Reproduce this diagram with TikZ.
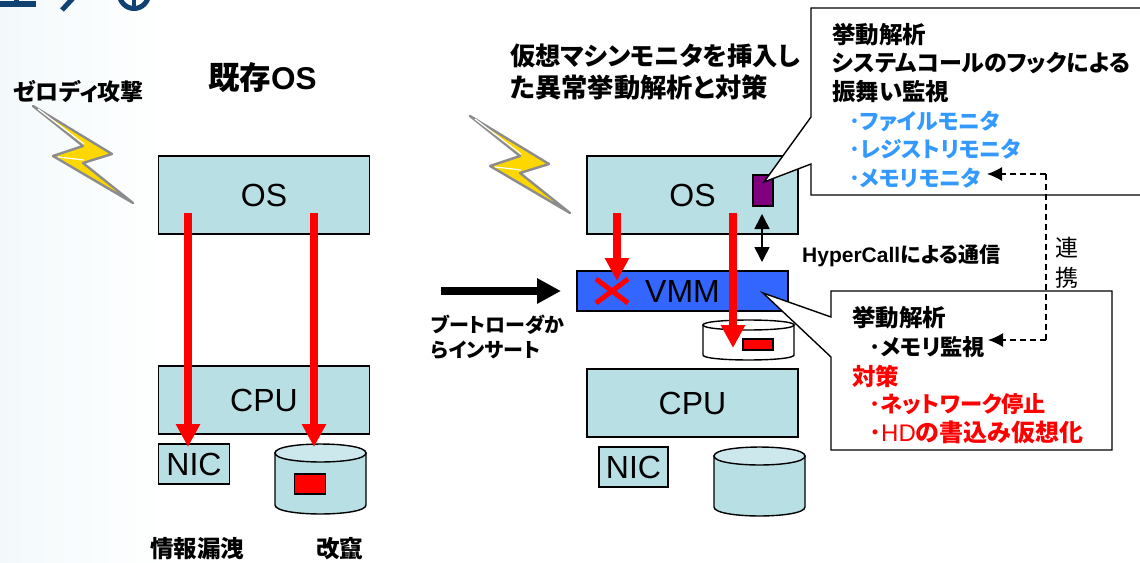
\documentclass[tikz,border=0pt]{standalone}
\usepackage{fontspec}
\setmainfont{Liberation Sans}
\newfontfamily\cjk[RawFeature=+palt]{Noto Sans CJK JP}
\usetikzlibrary{arrows.meta}
\definecolor{boxteal}{RGB}{184,223,227}
\definecolor{diskteal}{RGB}{204,232,236}
\definecolor{vmmblue}{RGB}{51,102,255}
\definecolor{monblue}{RGB}{51,153,255}
\definecolor{titleblue}{RGB}{15,65,115}
\definecolor{boltgold}{RGB}{255,215,0}
\definecolor{hookpurple}{RGB}{128,0,128}
\definecolor{paletint}{RGB}{243,249,251}
\newcommand{\jb}[1]{{\cjk\bfseries #1}}
\newcommand{\fs}[2]{\fontsize{#1}{#2}\selectfont}
\tikzset{
    hwbox/.style = {draw=black, line width=1.4pt, fill=boxteal, inner sep=0pt, font=\fontsize{32}{32}\selectfont},
    diskline/.style = {draw=black, line width=1.4pt},
    badblock/.style = {draw=black, line width=1.4pt, fill=red, inner sep=0pt},
    redarrow/.style = {red, line width=8pt, -{Triangle[length=23pt,width=23pt]}},
    blackarrow/.style = {black, line width=8pt, -{Triangle[length=24pt,width=24pt]}},
    linkarrow/.style = {black, line width=1.4pt, dash pattern=on 6pt off 4pt, -{Latex[length=15pt,width=14pt]}},
    callout/.style = {draw=black, line width=1.4pt, fill=white},
    label/.style = {inner sep=0pt, anchor=west, align=left},
}
\begin{document}
\begin{tikzpicture}[x=1pt, y=-1pt]
    \clip (0,0) rectangle (1140,562);
    \fill[white] (0,0) rectangle (1140,562);
    \fill[left color=paletint, right color=white] (0,0) rectangle (170,562);

    % cropped title
    \draw[titleblue, line width=6pt] (0,4) -- (36,4);
    \draw[titleblue, line width=5pt] (16,-4) -- (16,4);
    \draw[titleblue, line width=5pt] (75,-4) -- (62,10);
    \draw[titleblue, line width=5pt] (134,-6) circle (14.5);
    \draw[titleblue, line width=4pt] (134,-2) -- (134,8);

    % lightning bolts
    \foreach \dx/\dy in {0/0, 437/10} {
        \begin{scope}[shift={(\dx,\dy)}]
            \draw[draw=black!45, line width=2.4pt, line join=round, fill=boltgold]
                (33,106) -- (112,154) -- (83,163) -- (133,203) -- (53,156) -- (83,146) -- cycle;
            \draw[white, line width=1.2pt] (38,109) -- (84,144);
            \draw[white, line width=1.2pt] (58,157) -- (84,160);
        \end{scope}
    }

    % left stack
    \node[hwbox, minimum width=211pt, minimum height=78pt] (os1) at (264,195) {OS};
    \node[hwbox, minimum width=211pt, minimum height=68pt] (cpu1) at (264,400) {CPU};
    \node[hwbox, minimum width=71pt, minimum height=40pt] (nic1) at (194,464) {NIC};

    % disks
    \foreach \l/\r/\t/\b/\ry/\bodyc/\endc in {275/366/453/505/9/boxteal/diskteal, 714/805/456/507/9/boxteal/diskteal, 703/794/325/355/5/white/white} {
        \draw[diskline, fill=\bodyc] (\l,\t) -- (\l,\b) .. controls (\l,\b+1.33*\ry) and (\r,\b+1.33*\ry) .. (\r,\b) -- (\r,\t) -- cycle;
        \draw[diskline, fill=\endc] (\l,\t) .. controls (\l,\t+1.33*\ry) and (\r,\t+1.33*\ry) .. (\r,\t) .. controls (\r,\t-1.33*\ry) and (\l,\t-1.33*\ry) .. (\l,\t) -- cycle;
    }
    \node[badblock, minimum width=31pt, minimum height=20pt] (block1) at (310,484) {};
    \coordinate (s1) at (188,213);
    \coordinate (t1) at (188,447);
    \coordinate (s2) at (314,213);
    \coordinate (t2) at (314,447);
    \draw[redarrow] (s1) -- (t1);
    \draw[redarrow] (s2) -- (t2);

    % right stack
    \node[hwbox, minimum width=211pt, minimum height=78pt] (os2) at (692.5,195) {OS};
    \node[hwbox, fill=vmmblue, minimum width=211pt, minimum height=40pt] (vmm) at (682.5,291) {VMM};
    \node[hwbox, minimum width=211pt, minimum height=68pt] (cpu2) at (692.5,403) {CPU};
    \node[hwbox, minimum width=69pt, minimum height=40pt] (nic2) at (633.5,467) {NIC};
    \node[badblock, minimum width=30pt, minimum height=11pt] (block2) at (758,344.5) {};
    \node[draw=black, line width=1.4pt, fill=hookpurple, minimum width=20pt, minimum height=31pt, inner sep=0pt] (hook) at (763,190.5) {};

    \coordinate (s3) at (617,213);
    \coordinate (t3) at (617,281);
    \coordinate (s4) at (733,213);
    \coordinate (t4) at (733,348);
    \draw[redarrow] (s3) -- (t3);
    \draw[redarrow] (s4) -- (t4);
    \draw[red, line width=5pt] (596,279) -- (628,303);
    \draw[red, line width=5pt] (596,303) -- (628,279);
    \coordinate (ins) at (441,291);
    \coordinate (ine) at (561,291);
    \draw[blackarrow] (ins) -- (ine);
    \coordinate (hca) at (762,214);
    \coordinate (hcb) at (762,262);
    \draw[black, line width=1.6pt, {Triangle[length=15pt,width=15pt]}-{Triangle[length=15pt,width=15pt]}] (hca) -- (hcb);

    % callouts
    \draw[callout] (811,8) -- (1150,8) -- (1150,195) -- (811,195) -- (811,164) -- (764,182) -- (811,117) -- cycle;
    \draw[callout] (831,291) -- (1112,291) -- (1112,450) -- (831,450) -- (831,357) -- (763,293) -- (831,317) -- cycle;

    \coordinate (lka) at (1046,174);
    \coordinate (lkb) at (1046,340);
    \coordinate (lkc) at (987,174);
    \coordinate (lkd) at (988,340);
    \draw[linkarrow] (lka) -- (lkc);
    \draw[linkarrow] (lkb) -- (lkd);
    \draw[black, line width=1.4pt, dash pattern=on 6pt off 4pt] (lka) -- (lkb);

    % text
    \node[label, font=\fs{23}{23}] (zero) at (13,92) {\jb{ゼロディ攻撃}};
    \node[label, font=\fs{31.5}{31.5}\bfseries] (head1) at (208,78) {\jb{既存}OS};
    \node[label, font=\fs{25.3}{25.3}] (head2a) at (510,56) {\jb{仮想マシンモニタを挿入し}};
    \node[label, font=\fs{26.3}{26.3}] (head2b) at (510,88) {\jb{た異常挙動解析と対策}};
    \node[label, font=\fs{20}{25}] (boot) at (431,337.5) {\jb{ブートローダか}\\\jb{らインサート}};
    \node[label, font=\fs{21}{21}\bfseries] (hyper) at (802,256) {HyperCall\jb{による通信}};
    \node[label, font=\fs{23.5}{23.5}] (leak) at (150,549) {\jb{情報漏洩}};
    \node[label, font=\fs{23.5}{23.5}] (tamper) at (316,549) {\jb{改竄}};
    \node[label, anchor=center, font=\fs{23}{30}\cjk] (coop) at (1067,263) {連\\携};

    \node[label, font=\fs{23.5}{23.5}] (mon1a) at (832,35) {\jb{挙動解析}};
    \node[label, font=\fs{23}{23}] (mon1b) at (832,63.5) {\jb{システムコールのフックによる}};
    \node[label, font=\fs{23.5}{23.5}] (mon1c) at (832,92) {\jb{振舞い監視}};
    \node[label, font=\fs{21.8}{28.6}, text=monblue] (mon2) at (849,149.5) {\jb{･ファイルモニタ}\\\jb{･レジストリモニタ}\\\jb{･メモリモニタ}};
    \node[label, font=\fs{23.5}{23.5}] (ana) at (852,318) {\jb{挙動解析}};
    \node[label, font=\fs{22.3}{22.3}] (memw) at (869,347) {\jb{･メモリ監視}};
    \node[label, font=\fs{23.5}{23.5}, text=red] (cm) at (852,376) {\jb{対策}};
    \node[label, font=\fs{22.2}{22.2}, text=red] (cmnet) at (869,404) {\jb{･ネットワーク停止}};
    \node[label, font=\fs{24}{24}, text=red] (cmhd) at (869,432) {\jb{･}HD\jb{の書込み仮想化}};
\end{tikzpicture}
\end{document}
